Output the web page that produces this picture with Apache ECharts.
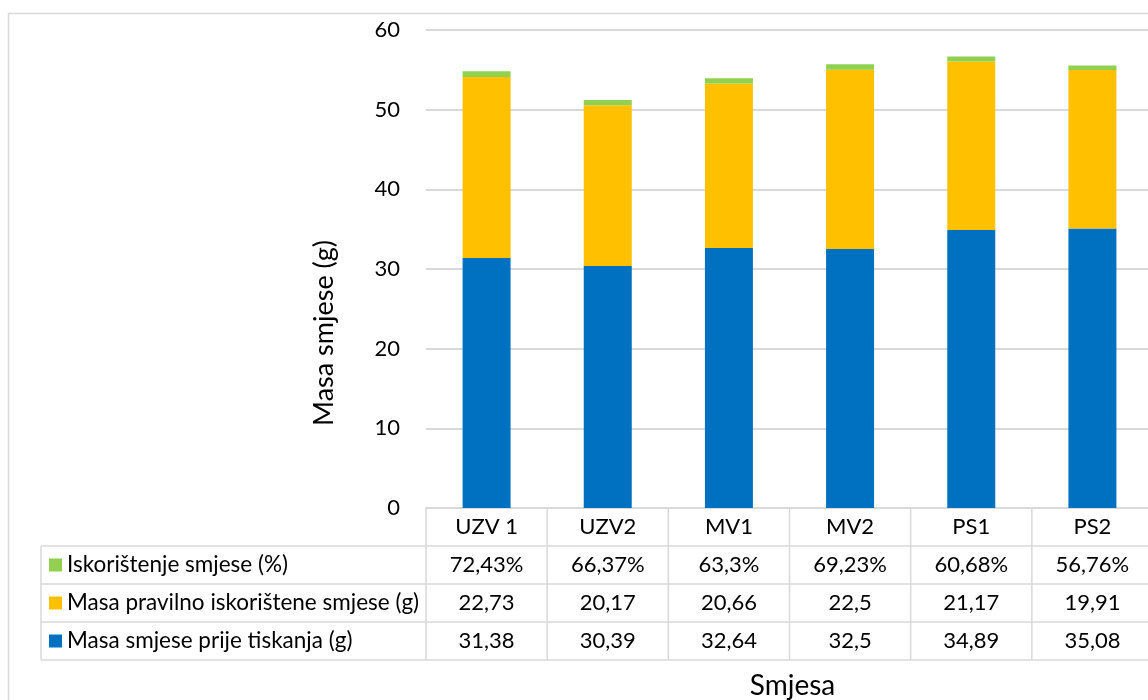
<!DOCTYPE html>
<html>
<head>
<meta charset="utf-8">
<script src="https://cdn.jsdelivr.net/npm/echarts@6/dist/echarts.min.js"></script>
<style>
html,body{margin:0;padding:0;background:#fff;overflow:hidden;}
#chart{width:1148px;height:700px;}
</style>
</head>
<body>
<div id="chart"></div>
<script>
const categories = ['UZV 1', 'UZV2', 'MV1', 'MV2', 'PS1', 'PS2'];
const masaPrijeTiskanja = [31.38, 30.39, 32.64, 32.5, 34.89, 35.08];
const masaPravilno = [22.73, 20.17, 20.66, 22.5, 21.17, 19.91];
const iskoristenjePct = [72.43, 66.37, 63.3, 69.23, 60.68, 56.76];
const nameIskoristenje = 'Iskorištenje smjese (%)';
const namePravilno = 'Masa pravilno iskorištene smjese (g)';
const namePrije = 'Masa smjese prije tiskanja (g)';
const yTitle = 'Masa smjese (g)';
const xTitle = 'Smjesa';

const FONT = 'Lato';
const GRID_L = 426, GRID_T = 30, GRID_W = 727, GRID_H = 478;
const ROW_H = 38;
const TABLE_FS = 22;
const fmt = v => String(v).replace('.', ',');

function rowAxis(margin, formatter) {
  return {
    type: 'category', data: categories, gridIndex: 0, position: 'bottom', offset: 0,
    axisLine: { show: false }, axisTick: { show: false }, splitLine: { show: false },
    axisLabel: { interval: 0, margin: margin, verticalAlign: 'middle', fontSize: TABLE_FS, color: '#000', fontFamily: FONT, formatter: formatter }
  };
}

const chart = echarts.init(document.getElementById('chart'), null, { renderer: 'canvas' });
const option = {
  animation: false,
  textStyle: { fontFamily: FONT },
  grid: { left: GRID_L, top: GRID_T, width: GRID_W, height: GRID_H, containLabel: false, outerBoundsMode: 'none' },
  legend: {
    data: [nameIskoristenje, namePravilno, namePrije],
    orient: 'vertical', left: 49, top: 553, padding: 0,
    itemWidth: 13, itemHeight: 13, itemGap: 14, icon: 'rect', selectedMode: false,
    textStyle: { fontSize: 22.5, color: '#000', lineHeight: 24, fontFamily: FONT }
  },
  xAxis: [
    {
      type: 'category', data: categories,
      axisLine: { show: true, lineStyle: { color: '#d9d9d9', width: 1.5 } },
      axisTick: { show: false },
      axisLabel: { interval: 0, margin: 19, verticalAlign: 'middle', fontSize: TABLE_FS, color: '#000', fontFamily: FONT },
      name: xTitle, nameLocation: 'middle', nameGap: 164,
      nameTextStyle: { fontSize: 28, color: '#000', fontFamily: FONT, verticalAlign: 'top', padding: [0, 0, 0, 6] }
    },
    rowAxis(19 + ROW_H, (v, i) => fmt(iskoristenjePct[i]) + '%'),
    rowAxis(19 + 2 * ROW_H, (v, i) => fmt(masaPravilno[i])),
    rowAxis(19 + 3 * ROW_H, (v, i) => fmt(masaPrijeTiskanja[i]))
  ],
  yAxis: {
    type: 'value', min: 0, max: 60, interval: 10,
    axisLine: { show: false }, axisTick: { show: false },
    axisLabel: { fontSize: 22, color: '#000', margin: 26, fontFamily: FONT },
    splitLine: { lineStyle: { color: '#d9d9d9', width: 2 } }
  },
  series: [
    { name: namePrije, type: 'bar', stack: 'm', barWidth: 48, data: masaPrijeTiskanja, itemStyle: { color: '#0070C0' } },
    { name: namePravilno, type: 'bar', stack: 'm', barWidth: 48, data: masaPravilno, itemStyle: { color: '#FFC000' } },
    { name: nameIskoristenje, type: 'bar', stack: 'm', barWidth: 48, data: iskoristenjePct.map(v => v / 100), itemStyle: { color: '#92D050' } }
  ]
};
chart.setOption(option);

// Data table lines, positioned from the category axis scale
const c0 = chart.convertToPixel({ xAxisIndex: 0 }, categories[0]);
const c1 = chart.convertToPixel({ xAxisIndex: 0 }, categories[1]);
const bw = c1 - c0;
const tLeft = c0 - bw / 2;
const tRight = tLeft + bw * categories.length;
const y0 = chart.convertToPixel({ yAxisIndex: 0 }, 0);
const lineStyle = { stroke: '#d9d9d9', lineWidth: 1.5 };
const LEG_L = 41;
const graphics = [];
graphics.push({ type: 'rect', silent: true, shape: { x: 8.5, y: 13.5, width: 1400, height: 900 }, style: { fill: null, stroke: '#d9d9d9', lineWidth: 1.5 } });
for (let k = 0; k <= categories.length; k++) {
  const x = tLeft + k * bw;
  graphics.push({ type: 'line', silent: true, shape: { x1: x, y1: y0, x2: x, y2: y0 + 4 * ROW_H }, style: lineStyle });
}
for (let r = 1; r <= 4; r++) {
  const y = y0 + r * ROW_H;
  graphics.push({ type: 'line', silent: true, shape: { x1: LEG_L, y1: y, x2: tRight, y2: y }, style: lineStyle });
}
graphics.push({ type: 'line', silent: true, shape: { x1: LEG_L, y1: y0 + ROW_H, x2: LEG_L, y2: y0 + 4 * ROW_H }, style: lineStyle });
graphics.push({
  type: 'text', silent: true, x: 324, y: 333, rotation: Math.PI / 2,
  style: { text: yTitle, font: '27px ' + FONT, fill: '#000', textAlign: 'center', textVerticalAlign: 'middle' }
});
chart.setOption({ graphic: graphics });
</script>
</body>
</html>
